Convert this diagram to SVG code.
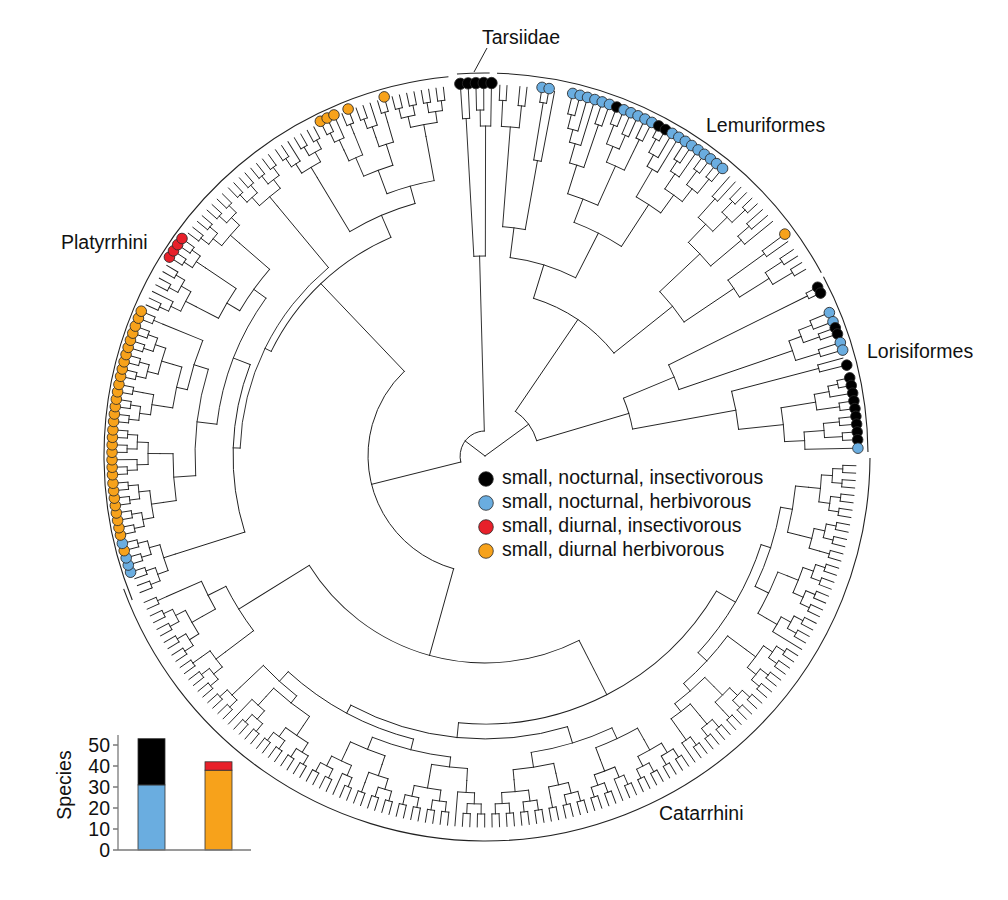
<svg xmlns="http://www.w3.org/2000/svg" width="1008" height="900" viewBox="0 0 1008 900">
<style>
.t{fill:none;stroke:#1e1e1e;stroke-width:.9;stroke-linecap:square}
.cb{fill:none;stroke:#222;stroke-width:1.1}
.d{stroke:#2a2a2a;stroke-width:.8}
.k{fill:#000}.b{fill:#6aade0}.r{fill:#e8202a}.o{fill:#f7a21b}
text{font-family:"Liberation Sans",Arial,sans-serif;fill:#111;font-size:19.5px}
.ax{stroke:#7a7a7a;stroke-width:1.3;fill:none}
.bs{stroke:#333;stroke-width:.8}
</style>
<rect width="1008" height="900" fill="#fff"/>
<defs>
<g id="P"><path d="M358 0H371"/><path d="M358 0H371" transform="rotate(1.15)"/><circle r="358" pathLength="360" stroke-dasharray="1.15 360"/><path d="M348 0H358" transform="rotate(.575)"/></g>
<g id="Q"><use href="#P"/><use href="#P" transform="rotate(2.3)"/><circle r="348" pathLength="360" stroke-dasharray="2.3 360" transform="rotate(.575)"/><path d="M337 0H348" transform="rotate(1.725)"/></g>
<g id="T"><use href="#P"/><path d="M348 0H371" transform="rotate(2.3)"/><circle r="348" pathLength="360" stroke-dasharray="1.725 360" transform="rotate(.575)"/><path d="M337 0H348" transform="rotate(1.4375)"/></g>
<g id="O"><use href="#Q"/><use href="#Q" transform="rotate(4.6)"/><circle r="337" pathLength="360" stroke-dasharray="4.6 360" transform="rotate(1.725)"/><path d="M325 0H337" transform="rotate(4.025)"/></g>
<g id="H"><use href="#Q"/><use href="#P" transform="rotate(4.6)"/><path d="M337 0H348" transform="rotate(5.175)"/><circle r="337" pathLength="360" stroke-dasharray="3.45 360" transform="rotate(1.725)"/><path d="M325 0H337" transform="rotate(3.45)"/></g>
<g id="F"><use href="#Q"/><path d="M337 0H371" transform="rotate(4.6)"/><circle r="337" pathLength="360" stroke-dasharray="2.875 360" transform="rotate(1.725)"/><path d="M325 0H337" transform="rotate(3.1625)"/></g>
<g id="G"><use href="#T"/><use href="#Q" transform="rotate(3.45)"/><circle r="337" pathLength="360" stroke-dasharray="3.7375 360" transform="rotate(1.4375)"/><path d="M325 0H337" transform="rotate(3.306)"/></g>
</defs>

<g id="connectors" class="t" transform="translate(485 456)">
<!-- root -->
<path d="M0 0H25" transform="rotate(217.2)"/>
<path d="M0 0H54" transform="rotate(-36.1)"/>
<circle r="25" pathLength="360" stroke-dasharray="102.47 360" transform="rotate(165.98)"/>
<path d="M25 0H117" transform="rotate(165.98)"/>
<circle r="117" pathLength="360" stroke-dasharray="120.85 360" transform="rotate(105.55)"/>

<g id="catarrhini-branches">
<path d="M117 0H207" transform="rotate(105.55)"/>
<circle r="207" pathLength="360" stroke-dasharray="85.17 360" transform="rotate(62.96)"/>
<path d="M207 0H268" transform="rotate(62.96)"/>
<path d="M207 0H290" transform="rotate(148.13)"/>
<circle r="268" pathLength="360" stroke-dasharray="65.41 360" transform="rotate(30.26)"/>
<path d="M268 0H290" transform="rotate(30.26)"/>
<path d="M268 0H283" transform="rotate(95.67)"/>
<use href="#O" transform="rotate(1.5)"/>
<use href="#H" transform="rotate(10.7)"/>
<use href="#O" transform="rotate(17.6)"/>
<use href="#F" transform="rotate(26.8)"/>
<use href="#O" transform="rotate(32.55)"/>
<use href="#H" transform="rotate(41.75)"/>
<use href="#Q" transform="rotate(48.65)"/>
<use href="#T" transform="rotate(53.25)"/>
<circle r="312" pathLength="360" stroke-dasharray="8.625 360" transform="rotate(5.525)"/>
<path d="M312 0H325" transform="rotate(5.525)"/><path d="M312 0H325" transform="rotate(14.15)"/>
<circle r="315" pathLength="360" stroke-dasharray="8.335 360" transform="rotate(21.625)"/>
<path d="M315 0H325" transform="rotate(21.625)"/><path d="M315 0H325" transform="rotate(29.96)"/>
<circle r="300" pathLength="360" stroke-dasharray="15.95 360" transform="rotate(9.84)"/>
<path d="M300 0H312" transform="rotate(9.84)"/><path d="M300 0H315" transform="rotate(25.79)"/>
<circle r="322" pathLength="360" stroke-dasharray="4.315 360" transform="rotate(50.375)"/>
<path d="M322 0H337" transform="rotate(50.375)"/><path d="M322 0H337" transform="rotate(54.69)"/>
<circle r="312" pathLength="360" stroke-dasharray="7.33 360" transform="rotate(45.2)"/>
<path d="M312 0H325" transform="rotate(45.2)"/><path d="M312 0H322" transform="rotate(52.53)"/>
<circle r="302" pathLength="360" stroke-dasharray="12.295 360" transform="rotate(36.575)"/>
<path d="M302 0H325" transform="rotate(36.575)"/><path d="M302 0H312" transform="rotate(48.87)"/>
<circle r="290" pathLength="360" stroke-dasharray="24.92 360" transform="rotate(17.8)"/>
<path d="M290 0H300" transform="rotate(17.8)"/><path d="M290 0H302" transform="rotate(42.72)"/>

<use href="#O" transform="rotate(56.7)"/>
<use href="#G" transform="rotate(65.9)"/>
<use href="#H" transform="rotate(73.95)"/>
<use href="#O" transform="rotate(80.85)"/>
<use href="#F" transform="rotate(90.05)"/>
<use href="#O" transform="rotate(95.8)"/>
<use href="#H" transform="rotate(105)"/>
<use href="#G" transform="rotate(111.9)"/>
<use href="#O" transform="rotate(119.95)"/>
<use href="#F" transform="rotate(129.15)"/>
<use href="#Q" transform="rotate(134.9)"/>
<circle r="312" pathLength="360" stroke-dasharray="8.481 360" transform="rotate(60.725)"/>
<path d="M312 0H325" transform="rotate(60.725)"/><path d="M312 0H325" transform="rotate(69.206)"/>
<circle r="315" pathLength="360" stroke-dasharray="7.475 360" transform="rotate(77.4)"/>
<path d="M315 0H325" transform="rotate(77.4)"/><path d="M315 0H325" transform="rotate(84.875)"/>
<circle r="300" pathLength="360" stroke-dasharray="16.17 360" transform="rotate(64.97)"/>
<path d="M300 0H312" transform="rotate(64.97)"/><path d="M300 0H315" transform="rotate(81.14)"/>
<circle r="313" pathLength="360" stroke-dasharray="6.615 360" transform="rotate(93.21)"/>
<path d="M313 0H325" transform="rotate(93.21)"/><path d="M313 0H325" transform="rotate(99.825)"/>
<circle r="316" pathLength="360" stroke-dasharray="6.756 360" transform="rotate(108.45)"/>
<path d="M316 0H325" transform="rotate(108.45)"/><path d="M316 0H325" transform="rotate(115.206)"/>
<circle r="303" pathLength="360" stroke-dasharray="15.31 360" transform="rotate(96.52)"/>
<path d="M303 0H313" transform="rotate(96.52)"/><path d="M303 0H316" transform="rotate(111.83)"/>
<circle r="314" pathLength="360" stroke-dasharray="8.335 360" transform="rotate(123.975)"/>
<path d="M314 0H325" transform="rotate(123.975)"/><path d="M314 0H325" transform="rotate(132.31)"/>
<circle r="305" pathLength="360" stroke-dasharray="8.485 360" transform="rotate(128.14)"/>
<path d="M305 0H314" transform="rotate(128.14)"/><path d="M305 0H337" transform="rotate(136.625)"/>
<circle r="292" pathLength="360" stroke-dasharray="28.21 360" transform="rotate(104.17)"/>
<path d="M292 0H303" transform="rotate(104.17)"/><path d="M292 0H305" transform="rotate(132.38)"/>
<circle r="283" pathLength="360" stroke-dasharray="45.23 360" transform="rotate(73.05)"/>
<path d="M283 0H300" transform="rotate(73.05)"/><path d="M283 0H292" transform="rotate(118.28)"/>

<use href="#H" transform="rotate(139.5)"/>
<use href="#O" transform="rotate(146.4)"/>
<use href="#P" transform="rotate(155.6)"/>
<circle r="310" pathLength="360" stroke-dasharray="5.75 360" transform="rotate(150.425)"/>
<path d="M310 0H325" transform="rotate(150.425)"/><path d="M310 0H348" transform="rotate(156.175)"/>
<circle r="290" pathLength="360" stroke-dasharray="10.35 360" transform="rotate(142.95)"/>
<path d="M290 0H325" transform="rotate(142.95)"/><path d="M290 0H310" transform="rotate(153.3)"/>
</g>

<g id="platyrrhini-branches">
<path d="M117 0H238" transform="rotate(226.4)"/>
<circle r="238" pathLength="360" stroke-dasharray="40.65 360" transform="rotate(206.07)"/>
<path d="M238 0H245" transform="rotate(206.07)"/><path d="M238 0H262" transform="rotate(246.72)"/>
<circle r="245" pathLength="360" stroke-dasharray="48.435 360" transform="rotate(181.85)"/>
<path d="M245 0H252" transform="rotate(181.85)"/><path d="M245 0H325" transform="rotate(230.285)"/>
<circle r="252" pathLength="360" stroke-dasharray="38.845 360" transform="rotate(162.425)"/>
<path d="M252 0H325" transform="rotate(162.425)"/><path d="M252 0H270" transform="rotate(201.27)"/>
<circle r="270" pathLength="360" stroke-dasharray="29.02 360" transform="rotate(186.76)"/>
<path d="M270 0H290" transform="rotate(186.76)"/><path d="M270 0H285" transform="rotate(215.78)"/>
<circle r="262" pathLength="360" stroke-dasharray="15.594 360" transform="rotate(238.926)"/>
<path d="M262 0H325" transform="rotate(238.926)"/><path d="M262 0H280" transform="rotate(254.52)"/>
<use href="#O" transform="rotate(158.4)"/>
<use href="#O" transform="rotate(167.76)"/>
<use href="#G" transform="rotate(177.12)"/>
<use href="#H" transform="rotate(185.31)"/>
<use href="#O" transform="rotate(192.33)"/>
<use href="#P" transform="rotate(201.69)"/>
<use href="#G" transform="rotate(204.03)"/>
<use href="#Q" transform="rotate(212.22)"/>
<use href="#O" transform="rotate(216.9)"/>
<use href="#O" transform="rotate(226.26)"/>
<use href="#G" transform="rotate(235.62)"/>
<use href="#T" transform="rotate(243.81)"/>
<use href="#P" transform="rotate(247.32)"/>
<use href="#T" transform="rotate(249.66)"/>
<use href="#P" transform="rotate(253.17)"/>
<use href="#O" transform="rotate(255.51)"/>
<circle r="312" pathLength="360" stroke-dasharray="8.641 360" transform="rotate(171.785)"/>
<path d="M312 0H325" transform="rotate(171.785)"/><path d="M312 0H325" transform="rotate(180.426)"/>
<circle r="316" pathLength="360" stroke-dasharray="7.595 360" transform="rotate(188.76)"/>
<path d="M316 0H325" transform="rotate(188.76)"/><path d="M316 0H325" transform="rotate(196.355)"/>
<circle r="305" pathLength="360" stroke-dasharray="9.705 360" transform="rotate(192.56)"/>
<path d="M305 0H316" transform="rotate(192.56)"/><path d="M305 0H348" transform="rotate(202.265)"/>
<circle r="290" pathLength="360" stroke-dasharray="21.3 360" transform="rotate(176.11)"/>
<path d="M290 0H312" transform="rotate(176.11)"/><path d="M290 0H305" transform="rotate(197.41)"/>
<circle r="300" pathLength="360" stroke-dasharray="6.609 360" transform="rotate(207.336)"/>
<path d="M300 0H325" transform="rotate(207.336)"/><path d="M300 0H337" transform="rotate(213.945)"/>
<circle r="285" pathLength="360" stroke-dasharray="10.285 360" transform="rotate(210.64)"/>
<path d="M285 0H300" transform="rotate(210.64)"/><path d="M285 0H325" transform="rotate(220.925)"/>
<circle r="325" pathLength="360" stroke-dasharray="2.645 360" transform="rotate(245.25)"/>
<path d="M325 0H337" transform="rotate(245.25)"/><path d="M325 0H348" transform="rotate(247.895)"/>
<circle r="327" pathLength="360" stroke-dasharray="2.645 360" transform="rotate(251.1)"/>
<path d="M327 0H337" transform="rotate(251.1)"/><path d="M327 0H348" transform="rotate(253.745)"/>
<circle r="305" pathLength="360" stroke-dasharray="5.85 360" transform="rotate(246.57)"/>
<path d="M305 0H325" transform="rotate(246.57)"/><path d="M305 0H327" transform="rotate(252.42)"/>
<circle r="280" pathLength="360" stroke-dasharray="10.035 360" transform="rotate(249.5)"/>
<path d="M280 0H305" transform="rotate(249.5)"/><path d="M280 0H325" transform="rotate(259.535)"/>
</g>

<g id="tarsiidae-branches">
<path d="M25 0H200" transform="rotate(-91.55)"/>
<circle r="200" pathLength="360" stroke-dasharray="3.3 360" transform="rotate(-93.2)"/>
<path d="M200 0H338" transform="rotate(-93.2)"/>
<circle r="338" pathLength="360" stroke-dasharray="1.2 360" transform="rotate(-93.8)"/>
<path d="M338 0H371" transform="rotate(-93.8)"/><path d="M338 0H371" transform="rotate(-92.6)"/>
<path d="M200 0H330" transform="rotate(-89.9)"/>
<circle r="330" pathLength="360" stroke-dasharray="1.8 360" transform="rotate(-90.8)"/>
<path d="M330 0H346" transform="rotate(-90.8)"/><path d="M330 0H371" transform="rotate(-89)"/>
<circle r="346" pathLength="360" stroke-dasharray="1.2 360" transform="rotate(-91.4)"/>
<path d="M346 0H371" transform="rotate(-91.4)"/><path d="M346 0H371" transform="rotate(-90.2)"/>
</g>

<g id="lemuriformes-branches">
<circle r="54" pathLength="360" stroke-dasharray="39.25 360" transform="rotate(-55.75)"/>
<path d="M54 0H165" transform="rotate(-55.75)"/>
<circle r="165" pathLength="360" stroke-dasharray="34.3 360" transform="rotate(-72.9)"/>
<path d="M165 0H200" transform="rotate(-72.9)"/><path d="M165 0H240" transform="rotate(-38.6)"/>
<circle r="200" pathLength="360" stroke-dasharray="19.73 360" transform="rotate(-82.77)"/>
<path d="M200 0H230" transform="rotate(-82.77)"/><path d="M200 0H250" transform="rotate(-63.04)"/>
<circle r="230" pathLength="360" stroke-dasharray="5.67 360" transform="rotate(-85.6)"/>
<path d="M230 0H330" transform="rotate(-85.6)"/><path d="M230 0H300" transform="rotate(-79.93)"/>
<circle r="330" pathLength="360" stroke-dasharray="3.1 360" transform="rotate(-87.15)"/>
<path d="M330 0H356" transform="rotate(-87.15)"/><path d="M330 0H352" transform="rotate(-84.05)"/>
<circle r="356" pathLength="360" stroke-dasharray="1.1 360" transform="rotate(-87.7)"/>
<path d="M356 0H371" transform="rotate(-87.7)"/><path d="M356 0H371" transform="rotate(-86.6)"/>
<circle r="352" pathLength="360" stroke-dasharray="1.1 360" transform="rotate(-84.6)"/>
<path d="M352 0H371" transform="rotate(-84.6)"/><path d="M352 0H371" transform="rotate(-83.5)"/>
<circle r="300" pathLength="360" stroke-dasharray="1.45 360" transform="rotate(-80.65)"/>
<path d="M300 0H358" transform="rotate(-80.65)"/><path d="M300 0H371" transform="rotate(-79.2)"/>
<circle r="358" pathLength="360" stroke-dasharray="1.1 360" transform="rotate(-81.2)"/>
<path d="M358 0H371" transform="rotate(-81.2)"/><path d="M358 0H371" transform="rotate(-80.1)"/>
<circle r="250" pathLength="360" stroke-dasharray="12.21 360" transform="rotate(-69.14)"/>
<path d="M250 0H275" transform="rotate(-69.14)"/><path d="M250 0H300" transform="rotate(-56.93)"/>
<circle r="275" pathLength="360" stroke-dasharray="6.72 360" transform="rotate(-72.5)"/>
<path d="M275 0H305" transform="rotate(-72.5)"/><path d="M275 0H318" transform="rotate(-65.78)"/>
<circle r="305" pathLength="360" stroke-dasharray="2.81 360" transform="rotate(-73.9)"/>
<path d="M305 0H325" transform="rotate(-73.9)"/><path d="M305 0H350" transform="rotate(-71.09)"/>
<circle r="325" pathLength="360" stroke-dasharray="2.07 360" transform="rotate(-74.93)"/>
<path d="M325 0H338" transform="rotate(-74.93)"/><path d="M325 0H371" transform="rotate(-72.86)"/>
<circle r="338" pathLength="360" stroke-dasharray="1.77 360" transform="rotate(-75.81)"/>
<path d="M338 0H352" transform="rotate(-75.81)"/><path d="M338 0H371" transform="rotate(-74.04)"/>
<circle r="352" pathLength="360" stroke-dasharray="1.18 360" transform="rotate(-76.4)"/>
<path d="M352 0H371" transform="rotate(-76.4)"/><path d="M352 0H371" transform="rotate(-75.22)"/>
<circle r="350" pathLength="360" stroke-dasharray="1.18 360" transform="rotate(-71.68)"/>
<path d="M350 0H371" transform="rotate(-71.68)"/><path d="M350 0H371" transform="rotate(-70.5)"/>
<circle r="318" pathLength="360" stroke-dasharray="3.54 360" transform="rotate(-67.55)"/>
<path d="M318 0H335" transform="rotate(-67.55)"/><path d="M318 0H352" transform="rotate(-64.01)"/>
<circle r="335" pathLength="360" stroke-dasharray="2.36 360" transform="rotate(-68.73)"/>
<path d="M335 0H355" transform="rotate(-68.73)"/><path d="M335 0H350" transform="rotate(-66.37)"/>
<circle r="355" pathLength="360" stroke-dasharray="1.18 360" transform="rotate(-69.32)"/>
<path d="M355 0H371" transform="rotate(-69.32)"/><path d="M355 0H371" transform="rotate(-68.14)"/>
<circle r="350" pathLength="360" stroke-dasharray="1.18 360" transform="rotate(-66.96)"/>
<path d="M350 0H371" transform="rotate(-66.96)"/><path d="M350 0H371" transform="rotate(-65.78)"/>
<circle r="352" pathLength="360" stroke-dasharray="1.18 360" transform="rotate(-64.6)"/>
<path d="M352 0H371" transform="rotate(-64.6)"/><path d="M352 0H371" transform="rotate(-63.42)"/>
<circle r="300" pathLength="360" stroke-dasharray="5.6 360" transform="rotate(-59.73)"/>
<path d="M300 0H332" transform="rotate(-59.73)"/><path d="M300 0H322" transform="rotate(-54.13)"/>
<circle r="332" pathLength="360" stroke-dasharray="2.07 360" transform="rotate(-60.77)"/>
<path d="M332 0H345" transform="rotate(-60.77)"/><path d="M332 0H371" transform="rotate(-58.7)"/>
<circle r="345" pathLength="360" stroke-dasharray="1.77 360" transform="rotate(-61.65)"/>
<path d="M345 0H360" transform="rotate(-61.65)"/><path d="M345 0H371" transform="rotate(-59.88)"/>
<circle r="360" pathLength="360" stroke-dasharray="1.18 360" transform="rotate(-62.24)"/>
<path d="M360 0H371" transform="rotate(-62.24)"/><path d="M360 0H371" transform="rotate(-61.06)"/>
<circle r="322" pathLength="360" stroke-dasharray="3.84 360" transform="rotate(-56.05)"/>
<path d="M322 0H340" transform="rotate(-56.05)"/><path d="M322 0H338" transform="rotate(-52.21)"/>
<circle r="340" pathLength="360" stroke-dasharray="1.77 360" transform="rotate(-56.93)"/>
<path d="M340 0H352" transform="rotate(-56.93)"/><path d="M340 0H371" transform="rotate(-55.16)"/>
<circle r="352" pathLength="360" stroke-dasharray="1.18 360" transform="rotate(-57.52)"/>
<path d="M352 0H371" transform="rotate(-57.52)"/><path d="M352 0H371" transform="rotate(-56.34)"/>
<circle r="338" pathLength="360" stroke-dasharray="2.36 360" transform="rotate(-53.39)"/>
<path d="M338 0H355" transform="rotate(-53.39)"/><path d="M338 0H356" transform="rotate(-51.03)"/>
<circle r="355" pathLength="360" stroke-dasharray="1.18 360" transform="rotate(-53.98)"/>
<path d="M355 0H371" transform="rotate(-53.98)"/><path d="M355 0H371" transform="rotate(-52.8)"/>
<circle r="356" pathLength="360" stroke-dasharray="1.18 360" transform="rotate(-51.62)"/>
<path d="M356 0H371" transform="rotate(-51.62)"/><path d="M356 0H371" transform="rotate(-50.44)"/>
<circle r="240" pathLength="360" stroke-dasharray="9.3 360" transform="rotate(-43.25)"/>
<path d="M240 0H295" transform="rotate(-43.25)"/><path d="M240 0H300" transform="rotate(-33.95)"/>
<circle r="295" pathLength="360" stroke-dasharray="6.3 360" transform="rotate(-46.4)"/>
<path d="M295 0H320" transform="rotate(-46.4)"/><path d="M295 0H335" transform="rotate(-40.1)"/>
<circle r="320" pathLength="360" stroke-dasharray="3.6 360" transform="rotate(-48.2)"/>
<path d="M320 0H345" transform="rotate(-48.2)"/><path d="M320 0H340" transform="rotate(-44.6)"/>
<circle r="345" pathLength="360" stroke-dasharray="1.2 360" transform="rotate(-48.8)"/>
<path d="M345 0H371" transform="rotate(-48.8)"/><path d="M345 0H371" transform="rotate(-47.6)"/>
<circle r="340" pathLength="360" stroke-dasharray="2.4 360" transform="rotate(-45.8)"/>
<path d="M340 0H355" transform="rotate(-45.8)"/><path d="M340 0H358" transform="rotate(-43.4)"/>
<circle r="355" pathLength="360" stroke-dasharray="1.2 360" transform="rotate(-46.4)"/>
<path d="M355 0H371" transform="rotate(-46.4)"/><path d="M355 0H371" transform="rotate(-45.2)"/>
<circle r="358" pathLength="360" stroke-dasharray="1.2 360" transform="rotate(-44)"/>
<path d="M358 0H371" transform="rotate(-44)"/><path d="M358 0H371" transform="rotate(-42.8)"/>
<circle r="335" pathLength="360" stroke-dasharray="1.8 360" transform="rotate(-41)"/>
<path d="M335 0H350" transform="rotate(-41)"/><path d="M335 0H371" transform="rotate(-39.2)"/>
<circle r="350" pathLength="360" stroke-dasharray="1.2 360" transform="rotate(-41.6)"/>
<path d="M350 0H371" transform="rotate(-41.6)"/><path d="M350 0H371" transform="rotate(-40.4)"/>
<circle r="300" pathLength="360" stroke-dasharray="3.9 360" transform="rotate(-35.9)"/>
<path d="M300 0H345" transform="rotate(-35.9)"/><path d="M300 0H335" transform="rotate(-32)"/>
<circle r="345" pathLength="360" stroke-dasharray="1.2 360" transform="rotate(-36.5)"/>
<path d="M345 0H371" transform="rotate(-36.5)"/><path d="M345 0H371" transform="rotate(-35.3)"/>
<circle r="335" pathLength="360" stroke-dasharray="2.4 360" transform="rotate(-33.2)"/>
<path d="M335 0H355" transform="rotate(-33.2)"/><path d="M335 0H358" transform="rotate(-30.8)"/>
<circle r="355" pathLength="360" stroke-dasharray="1.2 360" transform="rotate(-33.8)"/>
<path d="M355 0H371" transform="rotate(-33.8)"/><path d="M355 0H371" transform="rotate(-32.6)"/>
<circle r="358" pathLength="360" stroke-dasharray="1.2 360" transform="rotate(-31.4)"/>
<path d="M358 0H371" transform="rotate(-31.4)"/><path d="M358 0H371" transform="rotate(-30.2)"/>
</g>

<g id="lorisiformes-branches">
<path d="M54 0H150" transform="rotate(-16.5)"/>
<circle r="150" pathLength="360" stroke-dasharray="12.3 360" transform="rotate(-22.65)"/>
<path d="M150 0H205" transform="rotate(-22.65)"/><path d="M150 0H255" transform="rotate(-10.35)"/>
<circle r="205" pathLength="360" stroke-dasharray="7.49 360" transform="rotate(-26.4)"/>
<path d="M205 0H360" transform="rotate(-26.4)"/><path d="M205 0H325" transform="rotate(-18.91)"/>
<circle r="360" pathLength="360" stroke-dasharray="1 360" transform="rotate(-26.9)"/>
<path d="M360 0H371" transform="rotate(-26.9)"/><path d="M360 0H371" transform="rotate(-25.9)"/>
<circle r="325" pathLength="360" stroke-dasharray="3.62 360" transform="rotate(-20.72)"/>
<path d="M325 0H338" transform="rotate(-20.72)"/><path d="M325 0H350" transform="rotate(-17.1)"/>
<circle r="338" pathLength="360" stroke-dasharray="2.25 360" transform="rotate(-21.85)"/>
<path d="M338 0H352" transform="rotate(-21.85)"/><path d="M338 0H355" transform="rotate(-19.6)"/>
<circle r="352" pathLength="360" stroke-dasharray="1.5 360" transform="rotate(-22.6)"/>
<path d="M352 0H371" transform="rotate(-22.6)"/><path d="M352 0H371" transform="rotate(-21.1)"/>
<circle r="355" pathLength="360" stroke-dasharray="1 360" transform="rotate(-20.1)"/>
<path d="M355 0H371" transform="rotate(-20.1)"/><path d="M355 0H371" transform="rotate(-19.1)"/>
<circle r="350" pathLength="360" stroke-dasharray="1.2 360" transform="rotate(-17.7)"/>
<path d="M350 0H371" transform="rotate(-17.7)"/><path d="M350 0H371" transform="rotate(-16.5)"/>
<circle r="255" pathLength="360" stroke-dasharray="8.7 360" transform="rotate(-14.7)"/>
<path d="M255 0H345" transform="rotate(-14.7)"/><path d="M255 0H300" transform="rotate(-6)"/>
<circle r="345" pathLength="360" stroke-dasharray="1.2 360" transform="rotate(-15.3)"/>
<path d="M345 0H371" transform="rotate(-15.3)"/><path d="M345 0H371" transform="rotate(-14.1)"/>
<circle r="300" pathLength="360" stroke-dasharray="6.5 360" transform="rotate(-9.25)"/>
<path d="M300 0H335" transform="rotate(-9.25)"/><path d="M300 0H320" transform="rotate(-2.75)"/>
<circle r="335" pathLength="360" stroke-dasharray="2.7 360" transform="rotate(-10.6)"/>
<path d="M335 0H350" transform="rotate(-10.6)"/><path d="M335 0H358" transform="rotate(-7.9)"/>
<circle r="350" pathLength="360" stroke-dasharray="1.8 360" transform="rotate(-11.5)"/>
<path d="M350 0H360" transform="rotate(-11.5)"/><path d="M350 0H371" transform="rotate(-9.7)"/>
<circle r="360" pathLength="360" stroke-dasharray="1.2 360" transform="rotate(-12.1)"/>
<path d="M360 0H371" transform="rotate(-12.1)"/><path d="M360 0H371" transform="rotate(-10.9)"/>
<circle r="358" pathLength="360" stroke-dasharray="1.2 360" transform="rotate(-8.5)"/>
<path d="M358 0H371" transform="rotate(-8.5)"/><path d="M358 0H371" transform="rotate(-7.3)"/>
<circle r="320" pathLength="360" stroke-dasharray="3.1 360" transform="rotate(-4.3)"/>
<path d="M320 0H340" transform="rotate(-4.3)"/><path d="M320 0H371" transform="rotate(-1.2)"/>
<circle r="340" pathLength="360" stroke-dasharray="2.4 360" transform="rotate(-5.5)"/>
<path d="M340 0H356" transform="rotate(-5.5)"/><path d="M340 0H358" transform="rotate(-3.1)"/>
<circle r="356" pathLength="360" stroke-dasharray="1.2 360" transform="rotate(-6.1)"/>
<path d="M356 0H371" transform="rotate(-6.1)"/><path d="M356 0H371" transform="rotate(-4.9)"/>
<circle r="358" pathLength="360" stroke-dasharray="1.2 360" transform="rotate(-3.7)"/>
<path d="M358 0H371" transform="rotate(-3.7)"/><path d="M358 0H371" transform="rotate(-2.5)"/>
</g>
</g>

<g id="clade-bars" class="cb" transform="translate(485 456)">
<circle r="383" pathLength="360" stroke-dasharray="4.9 360" transform="rotate(-94.2)"/>
<circle r="383" pathLength="360" stroke-dasharray="59.6 360" transform="rotate(-88.2)"/>
<circle r="383" pathLength="360" stroke-dasharray="27.3 360" transform="rotate(-27.9)"/>
<circle r="385" pathLength="360" stroke-dasharray="159.5 360" transform="rotate(0.3)"/>
<circle r="381" pathLength="360" stroke-dasharray="106.7 360" transform="rotate(157.8)"/>
</g>

<g id="tips" transform="translate(485 456)">
<g id="tarsiidae-tips">
<circle class="d k" cx="373" r="5.7" transform="rotate(-93.8)"/>
<circle class="d k" cx="373" r="5.7" transform="rotate(-92.6)"/>
<circle class="d k" cx="373" r="5.7" transform="rotate(-91.4)"/>
<circle class="d k" cx="373" r="5.7" transform="rotate(-90.2)"/>
<circle class="d k" cx="373" r="5.7" transform="rotate(-89)"/>
</g>
<g id="lemuriformes-tips">
<circle class="d b" cx="373" r="5.3" transform="rotate(-81.2)"/>
<circle class="d b" cx="373" r="5.3" transform="rotate(-80.1)"/>
<circle class="d b" cx="373" r="5.3" transform="rotate(-76.4)"/>
<circle class="d b" cx="373" r="5.3" transform="rotate(-75.22)"/>
<circle class="d b" cx="373" r="5.3" transform="rotate(-74.04)"/>
<circle class="d b" cx="373" r="5.3" transform="rotate(-72.86)"/>
<circle class="d b" cx="373" r="5.3" transform="rotate(-71.68)"/>
<circle class="d b" cx="373" r="5.3" transform="rotate(-70.5)"/>
<circle class="d k" cx="373" r="5.3" transform="rotate(-69.32)"/>
<circle class="d b" cx="373" r="5.3" transform="rotate(-68.14)"/>
<circle class="d b" cx="373" r="5.3" transform="rotate(-66.96)"/>
<circle class="d b" cx="373" r="5.3" transform="rotate(-65.78)"/>
<circle class="d b" cx="373" r="5.3" transform="rotate(-64.6)"/>
<circle class="d b" cx="373" r="5.3" transform="rotate(-63.42)"/>
<circle class="d k" cx="373" r="5.3" transform="rotate(-62.24)"/>
<circle class="d k" cx="373" r="5.3" transform="rotate(-61.06)"/>
<circle class="d b" cx="373" r="5.3" transform="rotate(-59.88)"/>
<circle class="d b" cx="373" r="5.3" transform="rotate(-58.7)"/>
<circle class="d b" cx="373" r="5.3" transform="rotate(-57.52)"/>
<circle class="d b" cx="373" r="5.3" transform="rotate(-56.34)"/>
<circle class="d b" cx="373" r="5.3" transform="rotate(-55.16)"/>
<circle class="d b" cx="373" r="5.3" transform="rotate(-53.98)"/>
<circle class="d b" cx="373" r="5.3" transform="rotate(-52.8)"/>
<circle class="d b" cx="373" r="5.3" transform="rotate(-51.62)"/>
<circle class="d b" cx="373" r="5.3" transform="rotate(-50.44)"/>
<circle class="d o" cx="373" r="5.3" transform="rotate(-36.5)"/>
</g>
<g id="lorisiformes-tips">
<circle class="d k" cx="373" r="5.3" transform="rotate(-26.9)"/>
<circle class="d k" cx="373" r="5.3" transform="rotate(-25.9)"/>
<circle class="d b" cx="373" r="5.3" transform="rotate(-22.6)"/>
<circle class="d b" cx="373" r="5.3" transform="rotate(-21.1)"/>
<circle class="d k" cx="373" r="5.3" transform="rotate(-20.1)"/>
<circle class="d k" cx="373" r="5.3" transform="rotate(-19.1)"/>
<circle class="d b" cx="373" r="5.3" transform="rotate(-17.7)"/>
<circle class="d b" cx="373" r="5.3" transform="rotate(-16.5)"/>
<circle class="d k" cx="373" r="5.3" transform="rotate(-14.1)"/>
<circle class="d k" cx="373" r="5.3" transform="rotate(-12.1)"/>
<circle class="d k" cx="373" r="5.3" transform="rotate(-10.9)"/>
<circle class="d k" cx="373" r="5.3" transform="rotate(-9.7)"/>
<circle class="d k" cx="373" r="5.3" transform="rotate(-8.5)"/>
<circle class="d k" cx="373" r="5.3" transform="rotate(-7.3)"/>
<circle class="d k" cx="373" r="5.3" transform="rotate(-6.1)"/>
<circle class="d k" cx="373" r="5.3" transform="rotate(-4.9)"/>
<circle class="d k" cx="373" r="5.3" transform="rotate(-3.7)"/>
<circle class="d k" cx="373" r="5.3" transform="rotate(-2.5)"/>
<circle class="d b" cx="373" r="5.3" transform="rotate(-1.2)"/>
</g>
<g id="platyrrhini-tips">
<circle class="d b" cx="373" r="5.3" transform="rotate(161.85)"/>
<circle class="d b" cx="373" r="5.3" transform="rotate(163)"/>
<circle class="d b" cx="373" r="5.3" transform="rotate(164.15)"/>
<circle class="d o" cx="373" r="5.3" transform="rotate(165.3)"/>
<circle class="d b" cx="373" r="5.3" transform="rotate(166.45)"/>
<circle class="d o" cx="373" r="5.3" transform="rotate(167.76)"/>
<circle class="d o" cx="373" r="5.3" transform="rotate(168.91)"/>
<circle class="d o" cx="373" r="5.3" transform="rotate(170.06)"/>
<circle class="d o" cx="373" r="5.3" transform="rotate(171.21)"/>
<circle class="d o" cx="373" r="5.3" transform="rotate(172.36)"/>
<circle class="d o" cx="373" r="5.3" transform="rotate(173.51)"/>
<circle class="d o" cx="373" r="5.3" transform="rotate(174.66)"/>
<circle class="d o" cx="373" r="5.3" transform="rotate(175.81)"/>
<circle class="d o" cx="373" r="5.3" transform="rotate(177.12)"/>
<circle class="d o" cx="373" r="5.3" transform="rotate(178.27)"/>
<circle class="d o" cx="373" r="5.3" transform="rotate(179.42)"/>
<circle class="d o" cx="373" r="5.3" transform="rotate(180.57)"/>
<circle class="d o" cx="373" r="5.3" transform="rotate(181.72)"/>
<circle class="d o" cx="373" r="5.3" transform="rotate(182.87)"/>
<circle class="d o" cx="373" r="5.3" transform="rotate(184.02)"/>
<circle class="d o" cx="373" r="5.3" transform="rotate(185.31)"/>
<circle class="d o" cx="373" r="5.3" transform="rotate(186.46)"/>
<circle class="d o" cx="373" r="5.3" transform="rotate(187.61)"/>
<circle class="d o" cx="373" r="5.3" transform="rotate(188.76)"/>
<circle class="d o" cx="373" r="5.3" transform="rotate(189.91)"/>
<circle class="d o" cx="373" r="5.3" transform="rotate(191.06)"/>
<circle class="d o" cx="373" r="5.3" transform="rotate(192.33)"/>
<circle class="d o" cx="373" r="5.3" transform="rotate(193.48)"/>
<circle class="d o" cx="373" r="5.3" transform="rotate(194.63)"/>
<circle class="d o" cx="373" r="5.3" transform="rotate(195.78)"/>
<circle class="d o" cx="373" r="5.3" transform="rotate(196.93)"/>
<circle class="d o" cx="373" r="5.3" transform="rotate(198.08)"/>
<circle class="d o" cx="373" r="5.3" transform="rotate(199.23)"/>
<circle class="d o" cx="373" r="5.3" transform="rotate(200.38)"/>
<circle class="d o" cx="373" r="5.3" transform="rotate(201.69)"/>
<circle class="d o" cx="373" r="5.3" transform="rotate(202.84)"/>
<circle class="d r" cx="373" r="5.3" transform="rotate(212.22)"/>
<circle class="d r" cx="373" r="5.3" transform="rotate(213.37)"/>
<circle class="d r" cx="373" r="5.3" transform="rotate(214.52)"/>
<circle class="d r" cx="373" r="5.3" transform="rotate(215.67)"/>
<circle class="d o" cx="373" r="5.3" transform="rotate(243.81)"/>
<circle class="d o" cx="373" r="5.3" transform="rotate(244.96)"/>
<circle class="d o" cx="373" r="5.3" transform="rotate(246.11)"/>
<circle class="d o" cx="373" r="5.3" transform="rotate(248.47)"/>
<circle class="d o" cx="373" r="5.3" transform="rotate(254.32)"/>
</g>
</g>

<g id="labels">
<path d="M474 72L487 48" stroke="#222" stroke-width="1" fill="none"/>
<text x="482" y="44">Tarsiidae</text>
<text x="706" y="132">Lemuriformes</text>
<text x="867" y="358">Lorisiformes</text>
<text x="61" y="249">Platyrrhini</text>
<text x="659" y="820">Catarrhini</text>
</g>

<g id="legend">
<circle class="d k" cx="486" cy="479" r="7.3"/><text x="502" y="484">small, nocturnal, insectivorous</text>
<circle class="d b" cx="486" cy="503" r="7.3"/><text x="502" y="508">small, nocturnal, herbivorous</text>
<circle class="d r" cx="486" cy="527" r="7.3"/><text x="502" y="532">small, diurnal, insectivorous</text>
<circle class="d o" cx="486" cy="551" r="7.3"/><text x="502" y="556">small, diurnal herbivorous</text>
</g>

<g id="chart">
<rect class="bs b" x="138" y="784.9" width="27" height="65.1"/>
<rect class="bs k" x="138" y="738.7" width="27" height="46.2"/>
<rect class="bs o" x="205" y="770.2" width="27" height="79.8"/>
<rect class="bs r" x="205" y="761.8" width="27" height="8.4"/>
<path class="ax" d="M118 735V850H251M113 850H118M113 829H118M113 808H118M113 787H118M113 766H118M113 745H118"/>
<g text-anchor="end" style="font-size:20px">
<text x="110" y="857">0</text>
<text x="110" y="836">10</text>
<text x="110" y="815">20</text>
<text x="110" y="794">30</text>
<text x="110" y="773">40</text>
<text x="110" y="752">50</text>
</g>
<text transform="translate(71 785) rotate(-90)" text-anchor="middle">Species</text>
</g>
</svg>
